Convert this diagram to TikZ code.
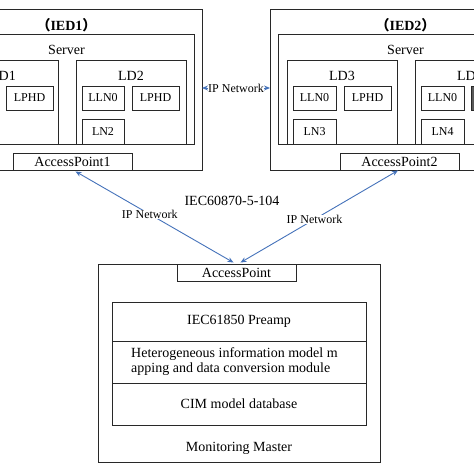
\documentclass[tikz,border=0pt]{standalone}
\usepackage{fontspec}
\setmainfont{Liberation Serif}
\newfontfamily\cjk{Noto Sans CJK SC}
\usetikzlibrary{arrows.meta}
\definecolor{arrowblue}{RGB}{68,114,186}
\definecolor{linegray}{RGB}{40,40,40}
\begin{document}
\begin{tikzpicture}[x=1pt,y=-1pt,
  box/.style={draw=linegray, line width=0.9pt},
  big/.style={font=\fontsize{14}{15}\selectfont},
  small/.style={font=\fontsize{12}{13}\selectfont},
  lnbox/.style={box, small, minimum width=42pt, minimum height=24pt, inner sep=0pt},
  apbox/.style={box, big, fill=white, minimum width=119pt, minimum height=17pt, inner sep=0pt},
  layer/.style={box, big, minimum width=254pt, inner sep=0pt},
  link/.style={draw=arrowblue, line width=0.9pt, {Stealth[length=6pt,width=5pt]}-{Stealth[length=6pt,width=5pt]}},
  netlabel/.style={small, fill=white, inner sep=0.5pt}
]
\useasboundingbox (0,0) rectangle (474,474);
\clip (0,0) rectangle (474,474);

% ---------------- IED1 ----------------
\draw[box] (-69,9) rectangle (202,170);
\draw[box] (-61,34) rectangle (194,144);
\draw[box] (-52,60) rectangle (58,144);
\draw[box] (76,60) rectangle (186,144);
\node[big, font=\fontsize{14}{15}\selectfont\bfseries] (t1) at (66.5,25) {{\cjk （}IED1{\cjk ）}};
\node[big] (s1) at (66.5,50) {Server};
\node[big] (ld1) at (3,76) {LD1};
\node[big] (ld2) at (131,76) {LD2};
\node[lnbox, minimum width=47pt] (l1b) at (29.5,98) {LPHD};
\node[lnbox] (l2a) at (103,98) {LLN0};
\node[lnbox, minimum width=47pt] (l2b) at (155.5,98) {LPHD};
\node[lnbox, minimum height=25pt] (l2c) at (103,131.5) {LN2};
\node[apbox] (ap1) at (72.5,161.5) {AccessPoint1};

% ---------------- IED2 ----------------
\draw[box] (270,9) rectangle (541,170);
\draw[box] (278,34) rectangle (533,144);
\draw[box] (287,60) rectangle (397,144);
\draw[box] (415,60) rectangle (525,144);
\node[big, font=\fontsize{14}{15}\selectfont\bfseries] (t2) at (405.5,25) {{\cjk （}IED2{\cjk ）}};
\node[big] (s2) at (405.5,50) {Server};
\node[big] (ld3) at (342,76) {LD3};
\node[big] (ld4) at (470,76) {LD4};
\node[lnbox, minimum width=43pt] (l3a) at (314.5,98) {LLN0};
\node[lnbox, minimum width=47pt] (l3b) at (367.5,98) {LPHD};
\node[lnbox, minimum width=43pt, minimum height=25pt] (l3c) at (314.5,131.5) {LN3};
\node[lnbox, minimum width=43pt] (l4a) at (442.5,98) {LLN0};
\draw[box, fill=black!65] (471,86) rectangle (518,110);
\node[lnbox, minimum width=43pt, minimum height=25pt] (l4c) at (442.5,131.5) {LN4};
\node[apbox] (ap2) at (399.5,161.5) {AccessPoint2};

% ---------------- horizontal link ----------------
\coordinate (h1) at (202,88);
\coordinate (h2) at (270,88);
\draw[link] (h1) -- (h2) node[midway, netlabel] (nh) {IP Network};

% ---------------- Monitoring master ----------------
\draw[box] (98,264) rectangle (380,462);
\node[apbox] (apm) at (236.5,272.5) {AccessPoint};
\node[layer, minimum height=39pt] (la1) at (239,321.5) {IEC61850 Preamp};
\node[layer, minimum height=42pt] (la2) at (239,362) {};
\node[big, anchor=west, align=left, inner sep=0pt] (la2t) at (131,361.5) {Heterogeneous information model m\\apping and data conversion module};
\node[layer, minimum height=42pt] (la3) at (239,404) {CIM model database};
\node[big] (mm) at (239,448) {Monitoring Master};

% ---------------- diagonal links ----------------
\node[big] (proto) at (232,201) {IEC60870-5-104};
\draw[link] ([xshift=3pt,yshift=-1pt]ap1.south) -- ([xshift=-3pt,yshift=1pt]apm.north)
  node[pos=0.47, netlabel] (n1) {IP Network};
\draw[link] ([xshift=-1.5pt]ap2.south) -- ([xshift=4pt,yshift=1pt]apm.north)
  node[pos=0.53, netlabel] (n2) {IP Network};
\end{tikzpicture}
\end{document}
